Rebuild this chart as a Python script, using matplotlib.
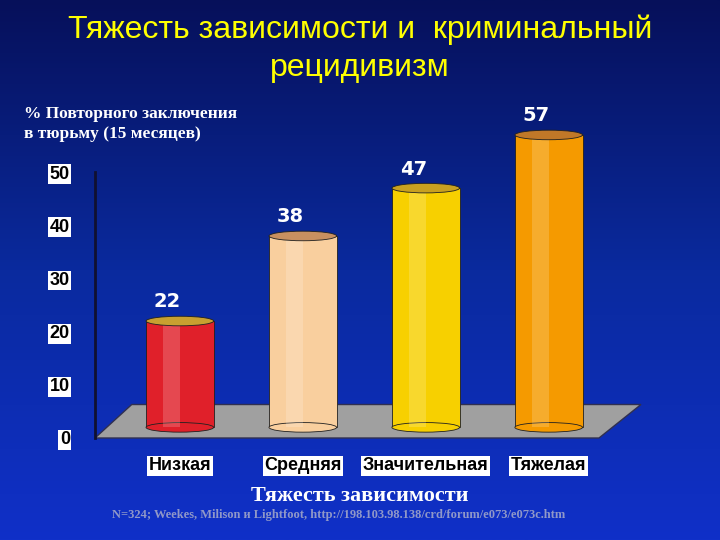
import matplotlib.pyplot as plt
import numpy as np
from matplotlib.patches import Ellipse, Polygon

categories = ["Низкая", "Средняя", "Значительная", "Тяжелая"]
values = [22, 38, 47, 57]
colors = ["#e0202a", "#f9cf9e", "#f7d000", "#f59a00"]
tops = ["#c8a030", "#c89060", "#c8a020", "#c07828"]

fig = plt.figure(figsize=(7.2, 5.4), dpi=100)

# blue gradient background
bg = fig.add_axes([0, 0, 1, 1])
grad = np.linspace(0, 1, 256).reshape(-1, 1)
bg.imshow(grad, aspect="auto", extent=(0, 1, 0, 1), origin="upper",
          cmap=plt.matplotlib.colors.LinearSegmentedColormap.from_list(
              "b", ["#06105a", "#0a2a9e", "#1030c8"]))
bg.set_axis_off()

fig.text(0.5, 1 - 30 / 540, "Тяжесть зависимости и  криминальный", ha="center", va="center",
         color="#ffff00", fontsize=23, family="Liberation Sans")
fig.text(0.5, 1 - 68 / 540, "рецидивизм", ha="center", va="center",
         color="#ffff00", fontsize=23, family="Liberation Sans")
fig.text(0.033, 1 - 124 / 540, "% Повторного заключения\nв тюрьму (15 месяцев)", ha="left", va="center",
         color="white", fontsize=12.5, family="Liberation Serif", weight="bold", linespacing=1.35)

ax = fig.add_axes([95 / 720, 1 - 438 / 540, 525 / 720, 319 / 540])
ax.patch.set_alpha(0)
x = np.arange(len(categories))
w = 0.55

# grey floor
floor = Polygon([(0.0, 0.0), (0.96, 0.0), (1.04, 0.105), (0.07, 0.105)],
                closed=True, transform=ax.transAxes, facecolor="#a0a0a0",
                edgecolor="#303050", lw=1.0, zorder=1, clip_on=False)
ax.add_patch(floor)

base = 2.0
ax.bar(x, np.array(values) - base, bottom=base, width=w, color=colors,
       edgecolor="#202020", lw=0.6, zorder=2)
ax.bar(x - w * 0.12, np.array(values) - base, bottom=base, width=w * 0.25,
       color="white", alpha=0.18, lw=0, zorder=3)
for xi, v, c, t in zip(x, values, colors, tops):
    ax.add_patch(Ellipse((xi, base), w, 1.8, facecolor=c, edgecolor="#202020", lw=0.6, zorder=2))
    ax.add_patch(Ellipse((xi, v), w, 1.8, facecolor=t, edgecolor="#202020", lw=0.6, zorder=4))
    ax.text(xi - 0.1, v + 1.8, str(v), ha="center", va="bottom", color="white",
            fontsize=14, weight="bold", zorder=5)

ax.set_xlim(-0.69, 3.58)
ax.set_ylim(0, 60)
ax.set_yticks([0, 10, 20, 30, 40, 50])
ax.set_xticks(x)
ax.set_xticklabels(categories)
for s in ["top", "right", "bottom"]:
    ax.spines[s].set_visible(False)
ax.spines["left"].set_bounds(0, 50)
ax.spines["left"].set_color("#101030")
ax.spines["left"].set_linewidth(2)
ax.tick_params(axis="both", length=0, labelsize=13)
ax.tick_params(axis="y", pad=18)
ax.tick_params(axis="x", pad=14)
for lab in ax.get_yticklabels() + ax.get_xticklabels():
    lab.set_color("black")
    lab.set_weight("bold")
    lab.set_bbox(dict(facecolor="white", edgecolor="none", pad=1))
    lab.set_family("Liberation Sans")

fig.text(0.5, 1 - 496 / 540, "Тяжесть зависимости", ha="center", va="center",
         color="white", fontsize=16, family="Liberation Serif", weight="bold")
fig.text(0.47, 1 - 515 / 540, "N=324; Weekes, Milison и Lightfoot, http://198.103.98.138/crd/forum/e073/e073c.htm",
         ha="center", va="center", color="#9098c8", fontsize=9, family="Liberation Serif", weight="bold")

fig.savefig("out.png", dpi=100)
